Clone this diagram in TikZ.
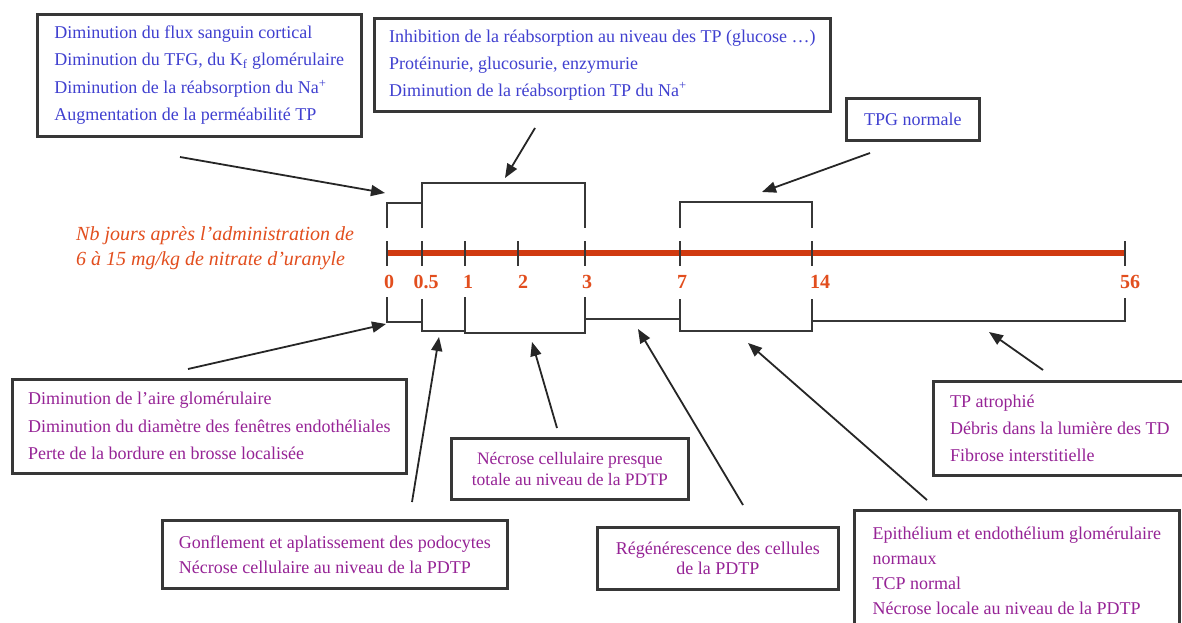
\documentclass[tikz,border=0pt]{standalone}
\usepackage{fontspec}
\setmainfont{Liberation Serif}
\usetikzlibrary{arrows.meta}
\definecolor{tblue}{RGB}{64,64,208}
\definecolor{tpurple}{RGB}{150,35,150}
\definecolor{torange}{RGB}{226,78,30}
\definecolor{axisred}{RGB}{208,58,16}
\definecolor{linegray}{RGB}{55,55,55}
\begin{document}
\begin{tikzpicture}[x=1pt,y=-1pt,
  box/.style={draw=linegray,line width=2.6pt,fill=white,anchor=north west,inner sep=0pt,align=left},
  bluebox/.style={box,text=tblue},
  purplebox/.style={box,text=tpurple},
  brk/.style={draw=linegray,line width=2.4pt},
  axistick/.style={draw=linegray,line width=2.4pt},
  pointer/.style={draw=black!85,line width=1.8pt,-{Triangle[length=14pt,width=11pt]}},
  ticklabel/.style={text=torange,font=\fontsize{20}{24}\selectfont\bfseries,inner sep=0pt},
]
\useasboundingbox[fill=white] (0,0) rectangle (1182,623);

% ---- top boxes
\node[bluebox,minimum width=324,minimum height=122,font=\fontsize{18}{27.5}\selectfont] (b1) at (36,13)
 {Diminution du flux sanguin cortical\\
  Diminution du TFG, du K\textsubscript{f} glomérulaire\\
  Diminution de la réabsorption du Na\textsuperscript{+}\\
  Augmentation de la perméabilité TP};
\node[bluebox,minimum width=456,minimum height=93,font=\fontsize{18}{27}\selectfont] (b2) at (373,17)
 {Inhibition de la réabsorption au niveau des TP (glucose …)\\
  Protéinurie, glucosurie, enzymurie\\
  Diminution de la réabsorption TP du Na\textsuperscript{+}};
\node[bluebox,minimum width=133,minimum height=42,align=center,font=\fontsize{18}{22}\selectfont] (b3) at (845,97)
 {TPG normale};

% ---- bottom boxes
\node[purplebox,minimum width=394,minimum height=94,font=\fontsize{18}{27.5}\selectfont] (b4) at (11,378)
 {Diminution de l’aire glomérulaire\\
  Diminution du diamètre des fenêtres endothéliales\\
  Perte de la bordure en brosse localisée};
\node[purplebox,minimum width=237,minimum height=61,align=center,font=\fontsize{17.5}{21}\selectfont] (b5) at (450,437)
 {Nécrose cellulaire presque\\ totale au niveau de la PDTP};
\node[purplebox,minimum width=345,minimum height=68,font=\fontsize{18}{25}\selectfont] (b6) at (161,519)
 {Gonflement et aplatissement des podocytes\\
  Nécrose cellulaire au niveau de la PDTP};
\node[purplebox,minimum width=241,minimum height=62,align=center,font=\fontsize{18}{20}\selectfont] (b7) at (596,526)
 {Régénérescence des cellules\\ de la PDTP};
\node[purplebox,minimum width=325,minimum height=122,font=\fontsize{18}{25}\selectfont] (b8) at (853,509)
 {Epithélium et endothélium glomérulaire\\
  normaux\\
  TCP normal\\
  Nécrose locale au niveau de la PDTP};
\node[purplebox,minimum width=253,minimum height=94,font=\fontsize{18}{27}\selectfont] (b9) at (932,380)
 {TP atrophié\\
  Débris dans la lumière des TD\\
  Fibrose interstitielle};

% ---- axis title
\node[anchor=west,align=left,inner sep=0pt,text=torange,font=\fontsize{20}{25}\selectfont\itshape] (title) at (76,248)
 {Nb jours après l’administration de\\ 6 à 15 mg/kg de nitrate d’uranyle};

% ---- axis
\draw[axisred,line width=6pt] (387,253) -- (1125,253);
\foreach \x in {387,422,465,518,585,680,812,1125}
  \draw[axistick] (\x,241) -- (\x,266);

\node[ticklabel] (l0)  at (389,282) {0};
\node[ticklabel] (l05) at (426,282) {0.5};
\node[ticklabel] (l1)  at (468,282) {1};
\node[ticklabel] (l2)  at (523,282) {2};
\node[ticklabel] (l3)  at (587,282) {3};
\node[ticklabel] (l7)  at (682,282) {7};
\node[ticklabel] (l14) at (820,282) {14};
\node[ticklabel] (l56) at (1130,282) {56};

% ---- brackets above
\draw[brk] (387,228) -- (387,203) -- (422,203);
\draw[brk] (422,228) -- (422,183) -- (585,183) -- (585,228);
\draw[brk] (680,228) -- (680,202) -- (812,202) -- (812,228);
% ---- brackets below
\draw[brk] (387,297) -- (387,322) -- (422,322);
\draw[brk] (422,299) -- (422,331) -- (465,331);
\draw[brk] (465,297) -- (465,333) -- (585,333) -- (585,297);
\draw[brk] (585,319) -- (680,319);
\draw[brk] (680,299) -- (680,331) -- (812,331) -- (812,299);
\draw[brk] (812,321) -- (1125,321) -- (1125,298);

% ---- pointers
\coordinate (s1) at (180,157); \coordinate (e1) at (385,193);
\coordinate (s2) at (535,128); \coordinate (e2) at (505,178);
\coordinate (s3) at (870,153); \coordinate (e3) at (762,192);
\coordinate (s4) at (188,369); \coordinate (e4) at (386,324);
\coordinate (s5) at (412,502); \coordinate (e5) at (439,337);
\coordinate (s6) at (557,428); \coordinate (e6) at (532,342);
\coordinate (s7) at (743,505); \coordinate (e7) at (638,329);
\coordinate (s8) at (927,500); \coordinate (e8) at (748,343);
\coordinate (s9) at (1043,370); \coordinate (e9) at (989,332);
\foreach \i in {1,...,9}
  \draw[pointer] (s\i) -- (e\i);
\end{tikzpicture}
\end{document}
